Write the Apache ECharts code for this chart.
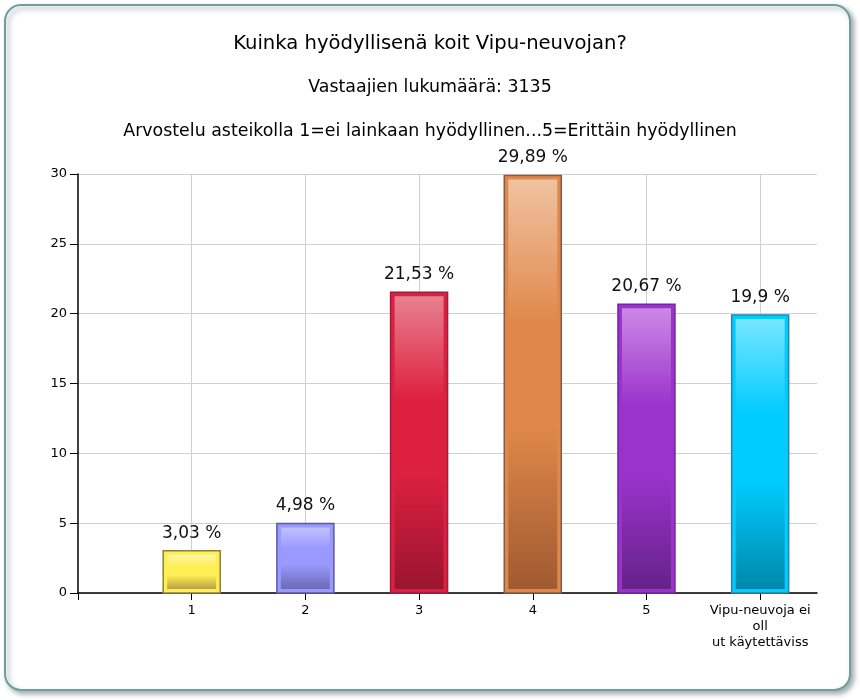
<!DOCTYPE html>
<html><head><meta charset="utf-8">
<script src="https://cdn.jsdelivr.net/npm/echarts@6/dist/echarts.min.js"></script>
<style>html,body{margin:0;padding:0;background:#fff}#c{width:860px;height:700px}</style>
</head><body><div id="c"></div>
<script>
const titleText = 'Kuinka hyödyllisenä koit Vipu-neuvojan?';
const subText1 = 'Vastaajien lukumäärä: 3135';
const subText2 = 'Arvostelu asteikolla 1=ei lainkaan hyödyllinen...5=Erittäin hyödyllinen';
const categories = ['1', '2', '3', '4', '5', 'Vipu-neuvoja ei\noll\nut käytettäviss'];
const values = [3.03, 4.98, 21.53, 29.89, 20.67, 19.9];
const valueLabels = ['3,03 %', '4,98 %', '21,53 %', '29,89 %', '20,67 %', '19,9 %'];
const yTicks = [0, 5, 10, 15, 20, 25, 30];
const baseColors = ['#ffee55', '#9999ff', '#dd2040', '#e0884a', '#9933cc', '#00ccff'];
const lightColors = ['#fff6a8', '#c0c0ff', '#e8808f', '#f0c2a2', '#cc88e6', '#77e6ff'];
const darkColors = ['#b8a040', '#6a6ab4', '#9a1530', '#a05a30', '#662288', '#0088aa'];
const borderColors = ['#8a8040', '#5a5aa0', '#992040', '#8a5a40', '#7722aa', '#2288aa'];

// half-step category axis: positions 0, 0.5, 1, ... 6.5
const axisCats = [];
for (let i = 0; i < 14; i++) axisCats.push(i % 2 === 0 && i >= 2 && i <= 12 ? categories[i / 2 - 1] : (i === 0 ? ' ' : '_' + i));
const seriesData = values.map((v, k) => [k * 2 + 2, v, k]);

const FONT = 'DejaVu Sans';
const chart = echarts.init(document.getElementById('c'));
chart.setOption({
  animation: false,
  backgroundColor: '#fff',
  graphic: [{
    type: 'rect', z: -10,
    shape: {x: 5, y: 5, width: 845, height: 685, r: 16},
    style: {fill: '#fff', stroke: '#6f9e9e', lineWidth: 2,
      shadowColor: 'rgba(60,80,80,0.45)', shadowBlur: 5, shadowOffsetX: 3, shadowOffsetY: 3}
  }],
  title: [
    {text: titleText, left: 'center', top: 34, padding: 0,
     textStyle: {fontFamily: FONT, fontSize: 19.6, fontWeight: 'normal', color: '#000'}},
    {text: subText1, left: 'center', top: 79, padding: 0,
     textStyle: {fontFamily: FONT, fontSize: 17.4, fontWeight: 'normal', color: '#000'}},
    {text: subText2, left: 'center', top: 123, padding: 0,
     textStyle: {fontFamily: FONT, fontSize: 17.4, fontWeight: 'normal', color: '#000'}}
  ],
  grid: {left: 78, right: 43, top: 174, bottom: 107, containLabel: false},
  xAxis: {
    type: 'category', data: axisCats, boundaryGap: false,
    axisLine: {show: true, lineStyle: {color: '#000', width: 1.5}},
    axisTick: {show: true, length: 7, lineStyle: {color: '#000'}, interval: (i) => i % 2 === 0},
    axisLabel: {interval: (i) => i % 2 === 0, fontFamily: FONT, fontSize: 13, color: '#000',
      margin: 10, lineHeight: 16,
      formatter: (v) => (v.charAt(0) === '_' || v === ' ') ? '' : v},
    splitLine: {show: true, interval: (i) => i % 2 === 0 && i > 0, lineStyle: {color: '#d0d0d0'}}
  },
  yAxis: {
    type: 'value', min: 0, max: 30, interval: 5,
    axisLine: {show: true, lineStyle: {color: '#000', width: 1.5}},
    axisTick: {show: true, length: 8, lineStyle: {color: '#000'}},
    axisLabel: {fontFamily: FONT, fontSize: 13, color: '#000', margin: 11},
    splitLine: {show: true, lineStyle: {color: '#d0d0d0'}}
  },
  series: [{
    type: 'custom',
    data: seriesData,
    encode: {x: 0, y: 1},
    clip: false,
    renderItem: function (params, api) {
      const k = api.value(2);
      const top = api.coord([api.value(0), api.value(1)]);
      const base = api.coord([api.value(0), 0]);
      const w = 57;
      const x0 = top[0] - w / 2;
      const h = base[1] - top[1];
      const inset = 4;
      return {
        type: 'group',
        children: [
          {type: 'rect', shape: {x: x0, y: top[1], width: w, height: h},
           style: {fill: baseColors[k], stroke: borderColors[k], lineWidth: 1.5}},
          {type: 'rect', shape: {x: x0 + inset, y: top[1] + inset, width: w - 2 * inset, height: Math.max(0, h - 2 * inset)},
           style: {fill: new echarts.graphic.LinearGradient(0, 0, 0, 1, [
             {offset: 0, color: lightColors[k]},
             {offset: 0.35, color: baseColors[k]},
             {offset: 0.6, color: baseColors[k]},
             {offset: 1, color: darkColors[k]}])}},
          {type: 'text', style: {text: valueLabels[k], x: top[0], y: top[1] - 9,
            align: 'center', verticalAlign: 'bottom', fontFamily: FONT, fontSize: 17, fill: '#111'}}
        ]
      };
    }
  }]
});
</script></body></html>
